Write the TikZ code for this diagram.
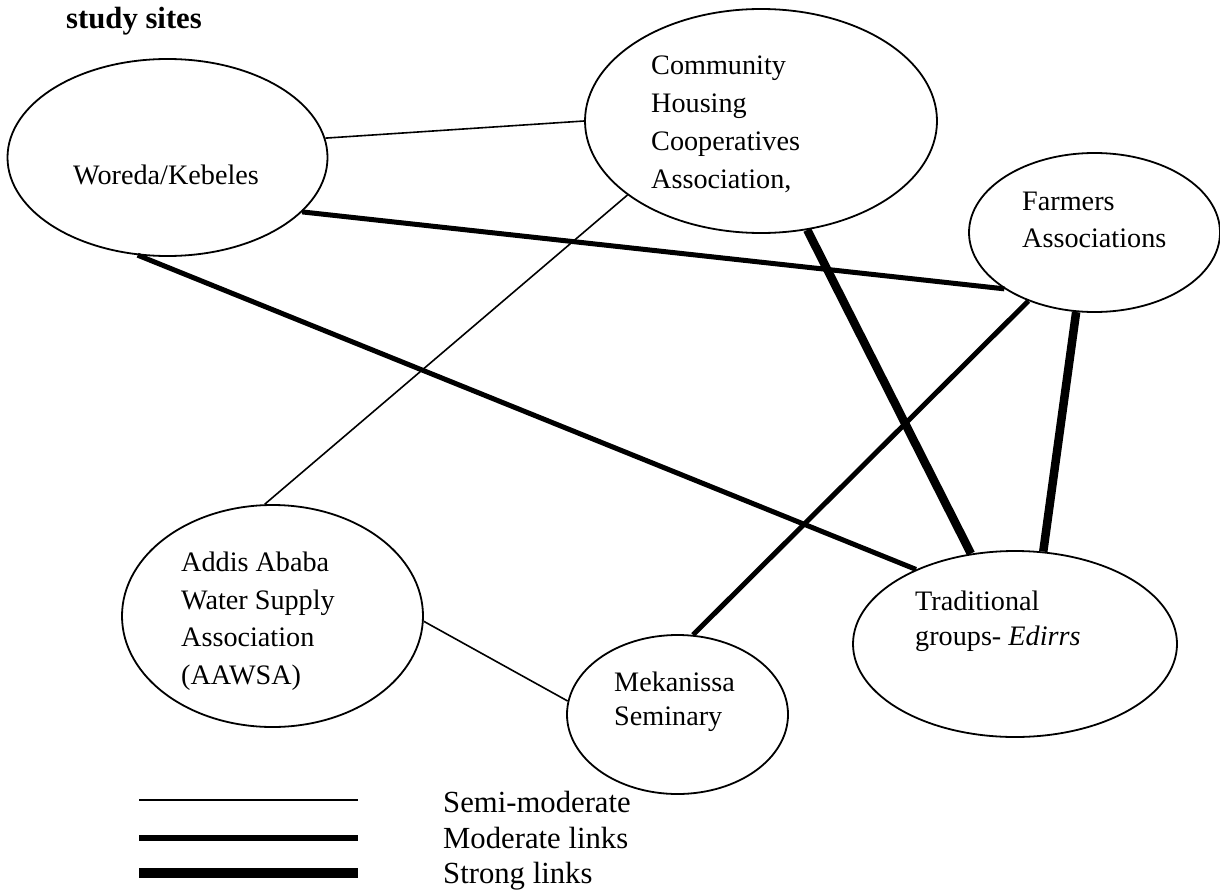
\documentclass[tikz,border=0pt]{standalone}
\usepackage{fontspec}
\setmainfont{Liberation Serif}
\usetikzlibrary{shapes.geometric}
\tikzset{
  org/.style={draw, ellipse, line width=1.8pt, inner sep=0pt, fill=white},
  lbl/.style={anchor=base west, inner sep=0pt, align=left, font=\fontsize{28.2}{37.5}\selectfont},
  legtext/.style={anchor=base west, inner sep=0pt, font=\fontsize{30.7}{35.5}\selectfont},
  semi/.style={line width=1.6pt},
  moder/.style={line width=5pt},
  strongl/.style={line width=8.5pt},
  legmoder/.style={line width=6.5pt},
  legstrong/.style={line width=10pt},
}
\begin{document}
\begin{tikzpicture}[x=1pt,y=-1pt]
\useasboundingbox (0,0) rectangle (1220,891);
% title
\node[anchor=base west, inner sep=0pt, font=\fontsize{30.7}{35}\selectfont\bfseries] (title) at (66,29) {study sites};
% ellipses
\node[org, minimum width=320pt, minimum height=197pt] (wor) at (167.5,157.5) {};
\node[org, minimum width=352pt, minimum height=224pt] (com) at (761,121) {};
\node[org, minimum width=251pt, minimum height=159pt] (far) at (1094.5,232.5) {};
\node[org, minimum width=301pt, minimum height=222pt] (aaw) at (272.5,616) {};
\node[org, minimum width=221pt, minimum height=159pt] (mek) at (677.5,714.5) {};
\node[org, minimum width=324pt, minimum height=186pt] (tra) at (1015,644) {};
% texts (anchor = baseline of the last line)
\node[lbl] (wort) at (73,184) {Woreda/Kebeles};
\node[lbl, font=\fontsize{28.2}{38}\selectfont] (comt) at (651,188) {Community\\Housing\\Cooperatives\\Association,};
\node[lbl, font=\fontsize{28.2}{37}\selectfont] (fart) at (1022,247) {Farmers\\Associations};
\node[lbl] (aawt) at (181,684) {Addis Ababa\\Water Supply\\Association\\(AAWSA)};
\node[lbl, font=\fontsize{28.2}{34}\selectfont] (mekt) at (614,725) {Mekanissa\\Seminary};
\node[lbl, font=\fontsize{28.2}{35}\selectfont] (trat) at (915,645) {Traditional\\groups- \textit{Edirrs}};
% connectors
\draw[semi] (wor.7.3) -- (com.180);
\draw[moder] (wor.-22) -- (far.212.2);
\draw[moder] (wor.253.3) -- (tra.143.3);
\draw[semi] (com.209.6) -- (aaw.94.4);
\draw[strongl] (com.293.6) -- (tra.116.6);
\draw[moder] (far.226.6) -- (mek.79.9);
\draw[strongl] (far.257.7) -- (tra.73.4);
\draw[semi] (aaw.-2.7) -- (mek.173.5);
% legend
\coordinate (l1a) at (139,800); \coordinate (l1b) at (358,800);
\coordinate (l2a) at (139,838); \coordinate (l2b) at (358,838);
\coordinate (l3a) at (139,873); \coordinate (l3b) at (358,873);
\draw[semi] (l1a) -- (l1b);
\draw[legmoder] (l2a) -- (l2b);
\draw[legstrong] (l3a) -- (l3b);
\node[legtext] (leg1) at (443,812) {Semi-moderate};
\node[legtext] (leg2) at (443,848) {Moderate links};
\node[legtext] (leg3) at (443,883) {Strong links};
\end{tikzpicture}
\end{document}
